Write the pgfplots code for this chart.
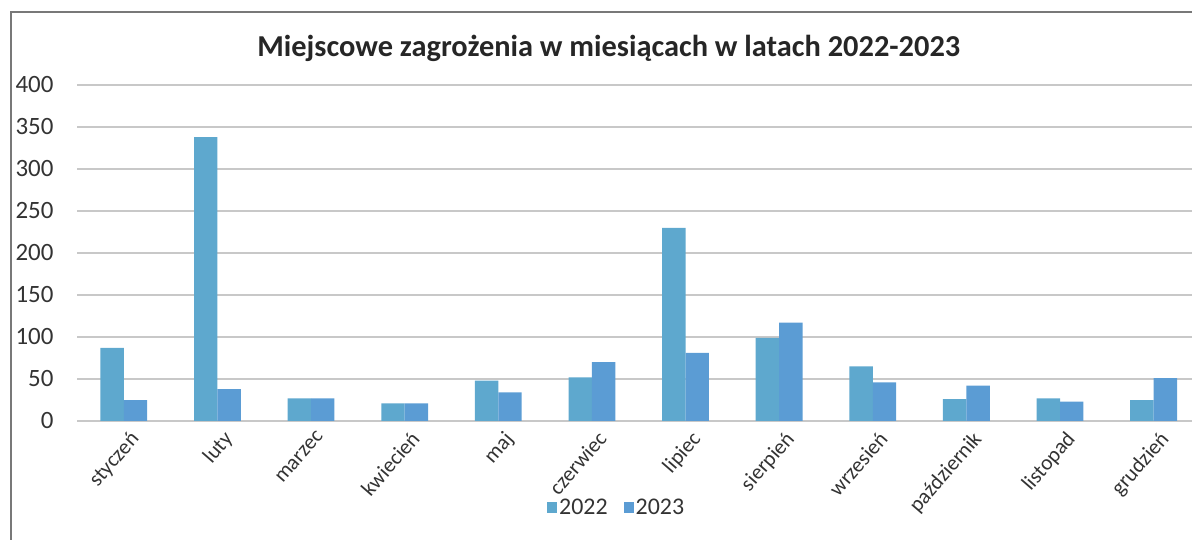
\documentclass[border=0pt]{standalone}
\usepackage{pgfplots}
\pgfplotsset{compat=1.18}
\usepackage{fontspec}
\setmainfont{Carlito}
\definecolor{c22}{RGB}{94,168,206}
\definecolor{c23}{RGB}{91,156,212}
\definecolor{gridc}{RGB}{200,200,200}
\definecolor{framec}{RGB}{120,120,120}
\begin{document}
\begin{tikzpicture}
\useasboundingbox (0,0) rectangle (1192bp,540bp);
\draw[framec, line width=1.3bp] (11bp,-2bp) -- (11bp,528bp) -- (1194bp,528bp);
\begin{axis}[
  at={(77bp,119bp)}, anchor=south west,
  scale only axis, width=1115bp, height=336bp,
  ybar=0pt, bar width=23.4bp,
  xmin=-0.5, xmax=11.41, ymin=0, ymax=400,
  enlarge x limits=false,
  xtick={0,...,11},
  xticklabels={styczeń,luty,marzec,kwiecień,maj,czerwiec,lipiec,sierpień,wrzesień,październik,listopad,grudzień},
  ytick={0,50,...,400},
  major tick length=0pt,
  axis line style={draw=none},
  ymajorgrids, grid style={gridc, line width=1.2bp},
  /pgf/number format/assume math mode=true,
  tick label style={text=black!80},
  yticklabel style={font=\fontsize{25}{29}\selectfont, anchor=east, xshift=-20bp},
  xticklabel style={font=\fontsize{21.5}{24}\selectfont, rotate=49, anchor=north east, xshift=0bp, yshift=-6bp},
  title={\textbf{Miejscowe zagrożenia w miesiącach w latach 2022-2023}},
  title style={at={(0.477,1.068)}, anchor=base, font=\fontsize{30.5}{34}\selectfont, text=black!85},
  legend style={at={(0.484,-0.256)}, anchor=center, draw=none, fill=none,
    font=\fontsize{24}{28}\selectfont, text=black!80, legend columns=2,
    /tikz/every even column/.append style={column sep=14bp}},
  legend image code/.code={\fill[#1] (0bp,-6bp) rectangle (10bp,5bp);},
]
\addplot[fill=c22, draw=none] coordinates {(0,87) (1,338) (2,27) (3,21) (4,48) (5,52) (6,230) (7,99) (8,65) (9,26) (10,27) (11,25)};
\addplot[fill=c23, draw=none] coordinates {(0,25) (1,38) (2,27) (3,21) (4,34) (5,70) (6,81) (7,117) (8,46) (9,42) (10,23) (11,51)};
\legend{2022,2023}
\end{axis}
\end{tikzpicture}
\end{document}
